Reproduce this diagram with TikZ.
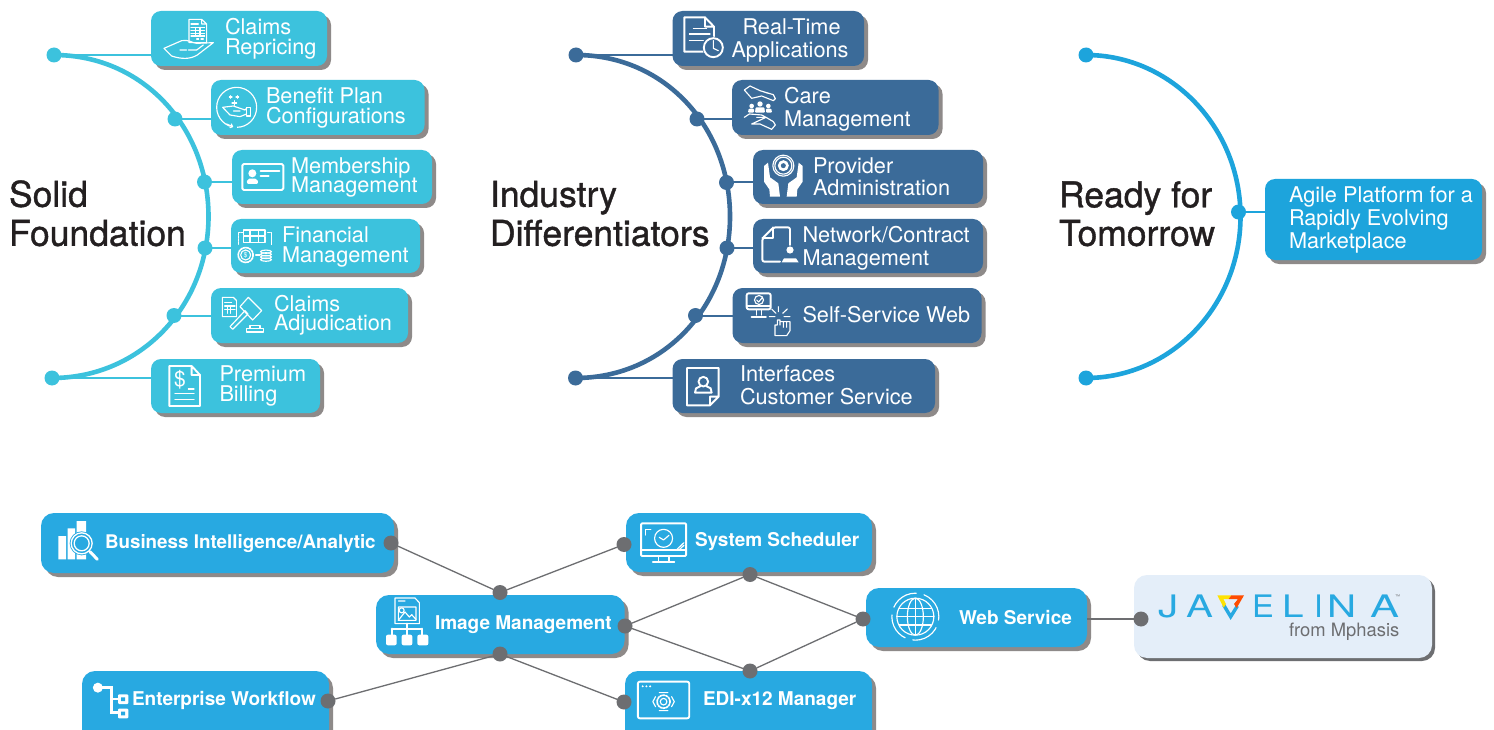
\documentclass[tikz,border=0pt]{standalone}
\usepackage{fontspec}
\usepackage{graphicx}
\setmainfont{TeX Gyre Heros}
\usetikzlibrary{shadows,calc}
\definecolor{teal}{HTML}{3CC2DD}
\definecolor{navy}{HTML}{3B6B99}
\definecolor{sky}{HTML}{1DA4DC}
\definecolor{azure}{HTML}{28A9E1}
\definecolor{shad}{HTML}{8E8A89}
\definecolor{gdark}{HTML}{6D6E71}
\definecolor{ink}{HTML}{231F20}
\definecolor{pale}{HTML}{E4EEF9}
\tikzset{
 boxbase/.style={rounded corners=10pt,inner sep=0pt,outer sep=0pt,draw=none,drop shadow={shadow xshift=4pt,shadow yshift=-4pt,opacity=1,fill=shad}},
 tealbox/.style={boxbase,fill=teal},
 navybox/.style={boxbase,fill=navy},
 skybox/.style={boxbase,fill=sky},
 azbox/.style={boxbase,fill=azure,rounded corners=13pt},
 palebox/.style={rounded corners=13pt,inner sep=0pt,outer sep=0pt,fill=pale,drop shadow={shadow xshift=3pt,shadow yshift=-3pt,opacity=1,fill=gdark}},
 lbl/.style={anchor=base west,inner sep=0pt,outer sep=0pt,text=white,font=\fontsize{21.7}{21.7}\selectfont},
 ttl/.style={lbl,text=ink,font=\fontsize{35.5}{35.5}\selectfont\addfontfeature{FakeBold=1.1}},
 blbl/.style={lbl,font=\bfseries\fontsize{19}{19}\selectfont},
 hubdot/.style={circle,inner sep=0pt,outer sep=0pt,minimum size=15pt},
 gdot/.style={circle,inner sep=0pt,outer sep=0pt,minimum size=15pt,fill=gdark},
 gline/.style={draw=gdark,line width=1.3pt},
 ic/.style={draw=white,line width=1.15pt,line join=round,line cap=round},
 icb/.style={draw=white,line width=1.9pt,line join=round,line cap=round},
 icf/.style={fill=white,draw=none},
 zu/.style 2 args={shift={(#1,#2)},x=0.33333pt,y=-0.33333pt},
 zb/.style 2 args={shift={(#1,#2)},x=0.39526pt,y=-0.33333pt},
 zc/.style 2 args={shift={(#1,#2)},x=0.53571pt,y=-0.33333pt},
}
\newcommand{\bx}[6]{\node[#1,minimum width={(#5-#3)*1pt},minimum height={(#6-#4)*1pt}] (#2) at ({(#3+#5)/2},{(#4+#6)/2}) {};}
\newcommand{\lb}[5][lbl]{\node[#1] (#2) at (#3,{#4+0.8}) {#5};}
\begin{document}
\begin{tikzpicture}[x=1pt,y=-1pt]
\clip (0,0) rectangle (1494,730);
\fill[white] (0,0) rectangle (1494,730);

%% ---------- group 1
\bx{tealbox}{a1}{151}{11}{327}{66}
\bx{tealbox}{a2}{211}{80}{424.5}{135}
\bx{tealbox}{a3}{232}{150}{432}{204}
\bx{tealbox}{a4}{231}{219}{420}{273}
\bx{tealbox}{a5}{211}{288}{408}{343}
\bx{tealbox}{a6}{151}{359}{320}{413}
\coordinate (am) at (208.5,216.5);
\node[hubdot,fill=teal] (p1) at (54,55) {};
\node[hubdot,fill=teal] (p2) at (175,119) {};
\node[hubdot,fill=teal] (p3) at (204.5,182) {};
\node[hubdot,fill=teal] (p4) at (205,248) {};
\node[hubdot,fill=teal] (p5) at (174,315.5) {};
\node[hubdot,fill=teal] (p6) at (52,378) {};
\draw[teal,line width=4.6pt] (p1.center) .. controls +(89,0) and +(0,-89) .. (am) .. controls +(0,89) and +(89,0) .. (p6.center);
\foreach \i in {1,...,6}{\draw[teal,line width=2pt] (p\i.center) -- (p\i.center -| a\i.west);}

%% ---------- group 2
\bx{navybox}{b1}{672.5}{11}{864}{66}
\bx{navybox}{b2}{732}{80}{938.5}{135}
\bx{navybox}{b3}{753}{150}{983}{204}
\bx{navybox}{b4}{753}{219}{983}{273}
\bx{navybox}{b5}{732.5}{288}{981.5}{343}
\bx{navybox}{b6}{672.5}{359}{935}{413}
\coordinate (bm) at (730,216.5);
\node[hubdot,fill=navy] (q1) at (576,55) {};
\node[hubdot,fill=navy] (q2) at (697,119) {};
\node[hubdot,fill=navy] (q3) at (726.5,182.5) {};
\node[hubdot,fill=navy] (q4) at (727,248) {};
\node[hubdot,fill=navy] (q5) at (695.5,315.5) {};
\node[hubdot,fill=navy] (q6) at (575.5,378) {};
\draw[navy,line width=4.6pt] (q1.center) .. controls +(89,0) and +(0,-89) .. (bm) .. controls +(0,89) and +(89,0) .. (q6.center);
\foreach \i in {1,...,6}{\draw[navy,line width=2pt] (q\i.center) -- (q\i.center -| b\i.west);}

%% ---------- group 3
\bx{skybox}{c1}{1265}{179}{1482}{260}
\coordinate (cm) at (1240.5,216.5);
\node[hubdot,fill=sky] (r1) at (1086,55) {};
\node[hubdot,fill=sky] (r2) at (1238.5,212) {};
\node[hubdot,fill=sky] (r3) at (1086,378) {};
\draw[sky,line width=4.6pt] (r1.center) .. controls +(85,0) and +(0,-89) .. (cm) .. controls +(0,89) and +(85,0) .. (r3.center);
\draw[sky,line width=2pt] (r2.center) -- (r2.center -| c1.west);

%% ---------- titles
\lb[ttl]{t1}{9}{206}{Solid}
\lb[ttl]{t2}{9}{245}{Foundation}
\lb[ttl]{t3}{490}{206}{Industry}
\lb[ttl]{t4}{490}{245}{Differentiators}
\lb[ttl]{t5}{1059}{206.5}{Ready for}
\lb[ttl]{t6}{1059}{245}{Tomorrow}

%% ---------- labels
\lb{l1}{225}{34}{Claims}\lb{l2}{225}{54}{Repricing}
\lb{l3}{266}{103}{Benefit Plan}\lb{l4}{266}{123}{Configurations}
\lb{l5}{291}{173}{Membership}\lb{l6}{291}{192}{Management}
\lb{l7}{282}{242}{Financial}\lb{l8}{282}{262}{Management}
\lb{l9}{274}{311}{Claims}\lb{l10}{274}{330}{Adjudication}
\lb{l11}{219.5}{381}{Premium}\lb{l12}{219.5}{401}{Billing}
\lb{m1}{742.5}{33.5}{Real-Time}\lb{m2}{731.5}{56.7}{Applications}
\lb{m3}{784}{102.7}{Care}\lb{m4}{784}{126}{Management}
\lb{m5}{813}{172.7}{Provider}\lb{m6}{813}{195}{Administration}
\lb{m7}{802.5}{241.7}{Network/Contract}\lb{m8}{802.5}{265}{Management}
\lb{m9}{802.5}{322}{Self-Service Web}
\lb{m10}{740}{380.7}{Interfaces}\lb{m11}{740}{403.3}{Customer Service}
\lb{n1}{1289}{201.7}{Agile Platform for a}\lb{n2}{1289}{225}{Rapidly Evolving}\lb{n3}{1289}{247.7}{Marketplace}

%% ---------- bottom network
\bx{azbox}{w1}{41}{513}{394}{573}
\bx{azbox}{w2}{376}{595}{624.5}{654}
\bx{azbox}{w3}{82}{671}{329}{745}
\bx{azbox}{w4}{626}{513}{872}{572}
\bx{azbox}{w5}{625}{671}{872}{745}
\bx{azbox}{w6}{866}{588}{1087}{647}
\bx{palebox}{w7}{1134}{575}{1432}{658}

\node[gdot] (g1) at (391,543) {};
\node[gdot] (g2) at (500,592.5) {};
\node[gdot] (g3) at (624,544.5) {};
\node[gdot] (g4) at (625,626) {};
\node[gdot] (g5) at (500,654) {};
\node[gdot] (g6) at (328,701) {};
\node[gdot] (g7) at (624,702) {};
\node[gdot] (g8) at (750,574.5) {};
\node[gdot] (g9) at (750,671) {};
\node[gdot] (g10) at (863,619) {};
\node[gdot] (g11) at (1141,619) {};
\draw[gline] (g1)--(g2) (g2)--(g3) (g4)--(g8) (g4)--(g9) (g8)--(g10) (g9)--(g10) (g6)--(g5) (g5)--(g7);
\draw[gline,line width=1.5pt] (g11) -- (g11 -| w6.east);

\lb[blbl]{k1}{105}{547.2}{\fontsize{18.8}{18.8}\selectfont Business Intelligence/Analytic}
\lb[blbl]{k2}{435}{628.2}{Image Management}
\lb[blbl]{k3}{132}{704.9}{Enterprise Workflow}
\lb[blbl]{k4}{695}{545.9}{System Scheduler}
\lb[blbl]{k5}{959}{623.2}{Web Service}
\lb[blbl]{k6}{703}{704.9}{EDI-x12 Manager}

%% ---------- Javelina wordmark
\tikzset{jv/.style={anchor=base west,inner sep=0pt,outer sep=0pt,text=azure,font=\fontsize{31}{31}\selectfont}}
\node[jv] (j1) at (1158,617.7) {\scalebox{1.3}[1]{J}};
\node[jv] (j2) at (1186,617.7) {\scalebox{1.3}[1]{A}};
\node[jv] (j3) at (1252,617.7) {\scalebox{1.05}[1]{E}};
\node[jv] (j4) at (1282,617.7) {\scalebox{1.25}[1]{L}};
\node[jv] (j5) at (1314,617.7) {I};
\node[jv] (j6) at (1327,617.7) {\scalebox{1.3}[1]{N}};
\node[jv] (j7) at (1370,617.7) {\scalebox{1.4}[1]{A}};
\node[inner sep=0pt,outer sep=0pt,text=gdark,font=\fontsize{5}{5}\selectfont,anchor=base west] (j8) at (1395,598) {™};
\node[anchor=base west,inner sep=0pt,outer sep=0pt,text=gdark,font=\fontsize{18.4}{18.4}\selectfont] (j9) at (1289,636.7) {from Mphasis};
% logo triangle
\begin{scope}[zu={1130}{570}]
\draw[line width=3.4pt,color=azure,miter limit=10] (281,105) -- (302,140) -- (322,108);
\fill[yellow!85!orange] (262,76) -- (304,76) -- (296,87) -- (280,87) -- (288,102) -- (281,113) -- cycle;
\fill[orange!60!red] (304,76) -- (342,76) -- (320,114) -- (312,102) -- (324,87) -- (296,87) -- cycle;
\end{scope}

%% ---------- icons: group 1
\begin{scope}[zu={0}{0}]
 % claims repricing
 \draw[ic] (567,58)--(605,58)--(620,72)--(620,128)--(567,128)--cycle (605,58)--(605,72)--(620,72);
 \draw[ic] (573,72)--(595,72) (573,82)--(614,82) (573,91)--(614,91) (573,100)--(614,100) (573,108)--(614,108) (587,82)--(587,108) (600,82)--(600,108) (590,117)--(596,117) (603,117)--(610,117);
 \draw[ic] (492,145)--(545,122) .. controls (565,118) and (575,128) .. (590,130) -- (640,128) -- (592,165) .. controls (570,178) and (545,178) .. (515,168) -- cycle;
 \draw[ic] (540,150)--(560,150) (565,150)--(590,150)--(610,135);
 % benefit plan
 \draw[ic] (710,322) circle[radius=20pt];
 \fill[teal] (690,375) rectangle (712,388);
 \draw[ic] (668,322)--(700,318)--(735,330)--(740,325) (668,322)--(690,345)--(720,350)--(740,342) (720,333)--(700,333);
 \draw[ic] (740,322) rectangle (752,348);
 \draw[ic] (703,302)--(703,316) (696,309)--(710,309) (692,287)--(692,295) (688,291)--(696,291) (712,287)--(712,295) (708,291)--(716,291);
 \draw[ic] (680,372)--(698,380) (694,372)--(698,380)--(690,383);
 % membership
 \draw[icb,rounded corners=1.5pt] (727,492) rectangle (850,570);
 \fill[white] (757,520) circle[radius=4pt];
 \fill[white,rounded corners=2pt] (740,552) -- (742,536) -- (772,536) -- (775,552) -- cycle;
 \draw[icb] (782,513)--(838,513) (782,527)--(806,527);
\end{scope}
\begin{scope}[zu={0}{210}]
 % financial
 \draw[ic,dash pattern=on 2pt off 1pt] (716,68) rectangle (814,120);
 \fill[teal] (730,60) rectangle (800,100);
 \foreach \yy in {60,80}{\draw[ic] (730,\yy) rectangle (795,\yy+17) (750,\yy)--(750,\yy+17) (775,\yy)--(775,\yy+17);}
 \fill[teal] (712,104) rectangle (820,162);
 \draw[ic,dash pattern=on 2pt off 1pt,line width=1.7pt] (737,135) circle[radius=7.5pt];
 \draw[ic] (737,135) circle[radius=5pt];
 \node[inner sep=0pt,outer sep=0pt,text=white,font=\fontsize{7}{7}\selectfont] (ic4) at (737,135) {\$};
 \foreach \yy in {125,133,141,149}{\draw[ic] (798,\yy) ellipse [x radius=5.5pt,y radius=1.6pt];}
 \draw[ic] (767,135)--(780,135);
 % adjudication
 \draw[ic] (667,262)--(700,262)--(710,272)--(710,320)--(667,320)--cycle;
 \draw[ic] (674,277)--(695,277) (674,288)--(705,288) (674,298)--(705,298) (683,288)--(683,310) (692,288)--(692,310);
 \fill[teal] (712,260) rectangle (790,335);
 \draw[ic] (720,290)--(745,262)--(785,302)--(758,330)--cycle;
 \draw[ic] (690,350)--(735,302)--(744,312)--(698,358)--cycle;
 \draw[ic] (750,355)--(750,346)--(780,346)--(780,355) (740,355) rectangle (790,366);
 % premium
 \draw[icb] (508,468)--(575,468)--(600,495)--(600,588)--(508,588)--cycle (575,468)--(575,495)--(600,495);
 \node[inner sep=0pt,outer sep=0pt,text=white,font=\fontsize{21}{21}\selectfont] (ic6) at (540,510) {\$};
 \draw[ic] (525,550)--(582,550) (525,568)--(582,568) (565,537)--(582,537);
\end{scope}

%% ---------- icons: group 2
\begin{scope}[zu={560}{0}]
 % real-time
 \draw[icb] (373,52)--(435,52)--(462,80)--(462,155)--(373,155)--cycle (435,52)--(435,80)--(462,80);
 \draw[ic] (400,85)--(440,85) (388,102)--(450,102) (388,122)--(430,122);
 \fill[navy] (460,143) circle[radius=11pt];
 \draw[icb] (460,143) circle[radius=9.5pt];
 \draw[ic] (460,122)--(460,145)--(475,152);
 % care
 \draw[ic] (553,270)--(570,258)--(600,272)--(640,284)--(646,296)--(640,302)--(605,288)--(575,295)--cycle (600,272)--(625,280);
 \draw[ic] (553,352)--(568,342)--(605,345)--(618,352)--(590,352) (618,352)--(640,365)--(646,375)--(635,388)--(600,372)--(575,372)--cycle;
 \fill[white] (600,312) circle[radius=2.7pt] (575,318) circle[radius=2.3pt] (625,318) circle[radius=2.3pt];
 \fill[white,rounded corners=1pt] (585,338) -- (587,322) -- (613,322) -- (615,338) -- cycle;
 \fill[white,rounded corners=1pt] (564,338) -- (566,326) -- (582,326) -- (582,338) -- cycle;
 \fill[white,rounded corners=1pt] (618,338) -- (618,326) -- (634,326) -- (636,338) -- cycle;
 % provider
 \draw[ic] (670,497) circle[radius=10.5pt] (670,497) circle[radius=8.5pt];
 \fill[white] (670,497) circle[radius=5.5pt];
 \fill[navy] (670,497) circle[radius=2.5pt];
 \fill[white] (612,498)--(624,488)--(630,532)--(655,550)--(660,590)--(630,590)--(628,568)--(612,545)--cycle;
 \fill[white] (728,498)--(716,488)--(710,532)--(685,550)--(680,590)--(710,590)--(712,568)--(728,545)--cycle;
\end{scope}
\begin{scope}[zu={560}{210}]
 % network
 \draw[icb,rounded corners=2pt] (660,155)--(607,155)--(607,85)--(640,52)--(690,52)--(690,105);
 \draw[icb] (607,85)--(640,85)--(640,52);
 \fill[white] (690,120) circle[radius=3.6pt];
 \fill[white] (665,157)--(672,145)--(708,145)--(716,157)--cycle;
 % self service
 \draw[icb,rounded corners=2pt] (560,250) rectangle (632,298);
 \draw[ic] (560,288)--(632,288);
 \draw[ic] (597,270) circle[radius=4.5pt] (590,270)--(596,276)--(606,264);
 \draw[ic] (590,298)--(590,315) (604,298)--(604,315);
 \draw[icb] (575,321)--(618,321);
 \draw[ic] (655,290)--(655,305) (635,297)--(648,310) (682,297)--(668,310) (628,320)--(645,320) (672,320)--(690,320);
 \draw[ic] (652,345)--(652,330)--(660,330)--(660,345) (660,335)--(690,335)--(690,362)--(680,377)--(645,377)--(645,345)--(652,345) (670,335)--(670,352) (680,335)--(680,352);
 % interfaces
 \draw[icb] (450,586)--(381,586)--(381,474)--(476,474)--(476,560)--cycle (450,586)--(450,560)--(476,560);
 \draw[icb] (430,515) circle[radius=4.8pt];
 \draw[icb] (405,548)--(408,535)--(422,528) (455,548)--(452,535)--(438,528) (405,548)--(455,548);
\end{scope}

%% ---------- icons: bottom
\begin{scope}[zu={40}{510}]
 % BI
 \fill[white] (55,78) rectangle (78,148) (83,55) rectangle (105,148) (110,33) rectangle (138,148);
 \fill[azure] (125,100) circle[radius=12pt];
 \draw[ic,line width=1.3pt] (125,100) circle[radius=10.5pt];
 \draw[ic,line width=1.3pt] (125,100) circle[radius=7.5pt];
 \draw[white,line width=3pt,line cap=round] (150,125)--(172,148);
\end{scope}
\begin{scope}[zu={380}{592}]
 % image management
 \draw[ic] (45,18)--(105,18)--(118,32)--(118,95)--(45,95)--cycle (55,45) rectangle (108,85);
 \draw[ic] (55,85)--(75,60)--(88,75)--(95,68)--(108,82) (55,27)--(75,27);
 \draw[ic] (65,55) circle[radius=2.5pt];
 \draw[icb] (80,95)--(80,128) (35,110)--(125,110) (35,110)--(35,128) (125,110)--(125,128);
 \fill[white,rounded corners=2pt] (18,128) rectangle (50,160) (65,128) rectangle (97,160) (112,128) rectangle (145,160);
\end{scope}
\begin{scope}[zb={20}{500}]
 % enterprise workflow
 \fill[white] (197,563) circle[radius=5pt];
 \draw[white,line width=2.8pt] (197,563)--(232,563)--(232,638)--(250,638) (232,597)--(250,597);
 \fill[white,rounded corners=1pt] (248,583) rectangle (274,612) (248,626) rectangle (274,655);
 \fill[azure] (256,592) rectangle (266,603) (256,635) rectangle (266,646);
\end{scope}
\begin{scope}[zc={610}{500}]
 % system scheduler
 \draw[icb,rounded corners=1pt] (58,70) rectangle (142,168);
 \draw[icb] (58,150)--(142,150);
 \draw[ic] (90,168)--(90,183) (110,168)--(110,183);
 \draw[icb] (80,185)--(120,185);
 \draw[ic] (100,115) circle[radius=9pt];
 \draw[ic] (92,112)--(100,120)--(110,106);
 \draw[ic] (66,105)--(66,88)--(76,88);
 \draw[ic] (125,148)--(138,128) (130,148)--(138,136);
 % web service
 \draw[ic] (570,350) circle[radius=18.5pt];
 \draw[ic] (570,350) ellipse [x radius=8pt,y radius=18.5pt];
 \draw[ic] (570,295)--(570,405) (535,350)--(605,350) (540,325)--(600,325) (540,375)--(600,375);
 \draw[ic,dash pattern=on 28pt off 8pt] (570,350) circle[radius=23.5pt];
 % EDI
 \draw[icb,rounded corners=2pt] (52,545) rectangle (148,655);
 \fill[white] (61,559) circle[radius=1.1pt] (68,559) circle[radius=1.1pt] (75,559) circle[radius=1.1pt];
 \draw[ic,line width=1.7pt,dash pattern=on 2pt off 1pt] (100,605) circle[radius=6.5pt];
 \draw[ic] (100,605) circle[radius=3.3pt];
 \draw[ic] (85,590)--(80,605)--(85,620) (115,590)--(120,605)--(115,620) (92,578)--(108,578) (92,632)--(108,632);
\end{scope}
\end{tikzpicture}
\end{document}
